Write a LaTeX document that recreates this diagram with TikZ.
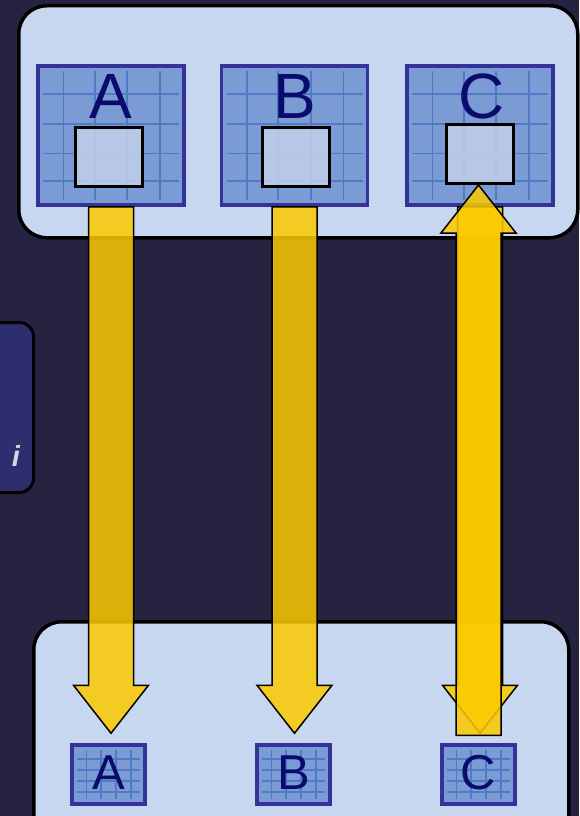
\documentclass[tikz,border=0pt]{standalone}
\usepackage{fontspec}
\setmainfont{Liberation Sans}
\usetikzlibrary{calc}
\definecolor{night}{HTML}{25233F}
\definecolor{pale}{HTML}{C8D7F0}
\definecolor{indigo}{HTML}{33339A}
\definecolor{tile}{HTML}{7B9BD4}
\definecolor{tilegrid}{HTML}{5079C6}
\definecolor{slotfill}{HTML}{C2D1EB}
\definecolor{letter}{HTML}{0B0B6E}
\definecolor{amber}{HTML}{FCCA00}
\definecolor{sidebox}{HTML}{2E2E6E}
\definecolor{glyph}{HTML}{D6D6DE}
\tikzset{
  panel/.style={draw=black,fill=pale,line width=3.5pt,rounded corners=28pt,inner sep=0pt},
  gridline/.style={draw=tilegrid,line width=1.8pt},
  chip/.style={draw=indigo,fill=tile,line width=3.5pt,inner sep=0pt,
    path picture={
      \coordinate (pnw) at ([shift={(5pt,-5pt)}]path picture bounding box.north west);
      \coordinate (pse) at ([shift={(-5pt,5pt)}]path picture bounding box.south east);
      \foreach \f in {0.15,0.38,0.62,0.86}
        \draw[gridline] ($(pnw)!\f!(pnw -| pse)$) -- ($(pse -| pnw)!\f!(pse)$);
      \foreach \f in {0.18,0.41,0.64,0.85}
        \draw[gridline] ($(pnw)!\f!(pnw |- pse)$) -- ($(pnw -| pse)!\f!(pse)$);
    }},
  bigchip/.style={chip,minimum width=146pt,minimum height=139pt},
  smallchip/.style={chip,minimum width=73pt,minimum height=59pt},
  slot/.style={draw=black,fill=slotfill,fill opacity=0.85,line width=3pt,inner sep=0pt,
    minimum width=67pt,minimum height=59pt},
  tag/.style={text=letter,inner sep=0pt,anchor=base,font=\fontsize{64}{64}\selectfont},
  smalltag/.style={tag,font=\fontsize{49}{49}\selectfont},
  fat/.style={draw=black,fill=amber,fill opacity=0.85,line width=1.5pt,line join=miter},
}
% vertical block arrow from #1 to #2
\newcommand{\fatarrow}[2]{%
  \draw[fat] let \p1=(#1), \p2=(#2), \n1={\y2-(\y2-\y1)/abs(\y2-\y1)*48} in
    (\x1-22.5pt,\y1) -- (\x1-22.5pt,{\n1*1pt}) -- (\x1-37.5pt,{\n1*1pt})
    -- (\x1,\y2) -- (\x1+37.5pt,{\n1*1pt}) -- (\x1+22.5pt,{\n1*1pt})
    -- (\x1+22.5pt,\y1) -- cycle;}

\begin{document}
\begin{tikzpicture}[x=1pt,y=-1pt]
  \fill[night] (0,0) rectangle (579,816);
  \useasboundingbox (0,0) rectangle (579,816);
  % panels
  \node[panel,anchor=north west,minimum width=559pt,minimum height=232pt] (upper) at (17,4) {};
  \node[panel,anchor=north west,minimum width=535pt,minimum height=250pt] (lower) at (32,620) {};
  \node[draw=black,fill=sidebox,line width=3pt,rounded corners=14pt,anchor=north east,
    minimum width=80pt,minimum height=170pt] (side) at (35,321) {};
  \node[text=glyph,inner sep=0pt,anchor=base,font=\fontsize{29}{29}\selectfont\bfseries\itshape] (info) at (16,466) {i};
  % upper tiles
  \node[bigchip] (srcA) at (111,135.5) {};
  \node[bigchip] (srcB) at (294.5,135.5) {};
  \node[bigchip] (srcC) at (480,135.5) {};
  \node[slot] (holeA) at (109,157) {};
  \node[slot] (holeB) at (296,157) {};
  \node[slot] (holeC) at (479.5,154) {};
  \node[tag] (labA) at (111,118) {A};
  \node[tag] (labB) at (294.5,118) {B};
  \node[tag] (labC) at (482,118) {C};
  % lower tiles
  \node[smallchip] (dstA) at (108.5,774.5) {};
  \node[smallchip] (dstB) at (293.5,774.5) {};
  \node[smallchip] (dstC) at (478.5,774.5) {};
  \node[smalltag] (dlabA) at (108.5,789) {A};
  \node[smalltag] (dlabB) at (293.5,789) {B};
  \node[smalltag] (dlabC) at (478.5,789) {C};
  % arrows
  \coordinate (tipA) at ([yshift=10pt]dstA.north);
  \coordinate (tipB) at ([yshift=10pt]dstB.north);
  \coordinate (tipC) at ([yshift=10pt]dstC.north);
  \coordinate (tailC) at ([yshift=8pt]dstC.north);
  \fatarrow{srcA.south}{tipA}
  \fatarrow{srcB.south}{tipB}
  \fatarrow{srcC.south}{tipC}
  \fatarrow{tailC}{holeC.south}
\end{tikzpicture}
\end{document}
